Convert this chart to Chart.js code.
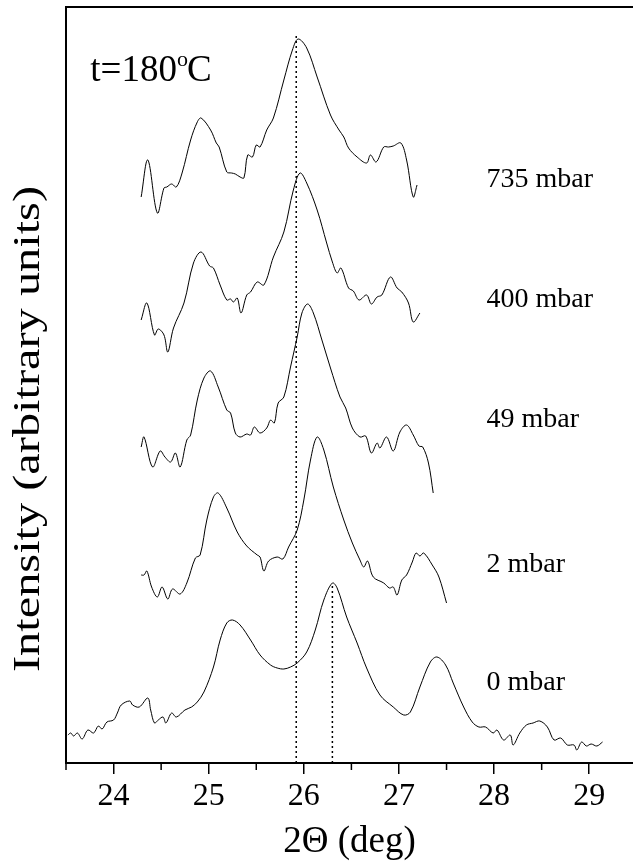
<!DOCTYPE html>
<html lang="en">
<head>
  <meta charset="utf-8">
  <title>XRD patterns, t=180°C</title>
  <script src="https://cdn.jsdelivr.net/npm/chart.js"></script>
  <style>
    body { margin: 0; background: #fff; }
  </style>
</head>
<body>
  <canvas id="xrd" width="633" height="862"></canvas>

  <script>
    // tick labels of the 2-theta axis
    const xTicks = [24, 25, 26, 27, 28, 29];

    // pressures, top to bottom
    const pressures = ['735 mbar', '400 mbar', '49 mbar', '2 mbar', '0 mbar'];
    const labelLevel = [583, 463, 343, 198, 80];

    // 735 mbar
    const theta735 = [24.29, 24.36, 24.46, 24.53, 24.56, 24.61, 24.66, 24.72, 24.81, 24.88, 24.92, 25.02, 25.08, 25.11, 25.19, 25.24, 25.28, 25.33, 25.37, 25.41, 25.46, 25.50, 25.54, 25.61, 25.68, 25.79, 25.88, 25.94, 26.03, 26.14, 26.28, 26.37, 26.42, 26.47, 26.56, 26.66, 26.70, 26.76, 26.84, 26.89, 26.94, 27.02, 27.08, 27.15, 27.19];
    const int735 = [566, 603, 550, 575, 576, 579, 576, 590, 623, 641, 645, 633, 620, 616, 591, 590, 589, 586, 585, 608, 606, 618, 616, 633, 645, 683, 713, 724, 715, 686, 648, 633, 626, 615, 606, 600, 608, 601, 616, 616, 617, 620, 603, 566, 578];

    // 400 mbar
    const theta400 = [24.29, 24.35, 24.43, 24.47, 24.53, 24.57, 24.63, 24.74, 24.84, 24.92, 25.01, 25.05, 25.12, 25.19, 25.23, 25.26, 25.30, 25.34, 25.40, 25.44, 25.51, 25.58, 25.68, 25.79, 25.89, 25.96, 26.03, 26.14, 26.24, 26.30, 26.35, 26.39, 26.47, 26.52, 26.58, 26.66, 26.71, 26.77, 26.82, 26.91, 26.98, 27.03, 27.10, 27.15, 27.22];
    const int400 = [443, 460, 428, 434, 428, 411, 435, 460, 500, 511, 497, 495, 478, 463, 464, 461, 465, 450, 468, 471, 481, 478, 506, 531, 573, 590, 580, 553, 520, 501, 490, 495, 475, 472, 463, 468, 459, 466, 468, 486, 475, 471, 460, 441, 450];

    // 49 mbar
    const theta49 = [24.29, 24.32, 24.41, 24.49, 24.54, 24.60, 24.65, 24.70, 24.77, 24.81, 24.88, 24.95, 25.02, 25.10, 25.19, 25.23, 25.28, 25.33, 25.40, 25.44, 25.48, 25.54, 25.61, 25.65, 25.69, 25.73, 25.79, 25.86, 25.93, 25.98, 26.04, 26.10, 26.19, 26.28, 26.38, 26.44, 26.51, 26.59, 26.65, 26.71, 26.77, 26.80, 26.87, 26.94, 27.01, 27.08, 27.15, 27.21, 27.25, 27.31, 27.36];
    const int49 = [316, 326, 296, 312, 306, 301, 310, 296, 323, 328, 363, 385, 392, 376, 353, 350, 330, 326, 329, 328, 336, 330, 335, 343, 340, 360, 366, 396, 426, 450, 459, 450, 423, 395, 366, 355, 335, 326, 327, 310, 320, 315, 326, 312, 331, 338, 328, 317, 316, 300, 270];

    // 2 mbar
    const theta2 = [24.29, 24.32, 24.35, 24.40, 24.46, 24.51, 24.57, 24.62, 24.70, 24.77, 24.86, 24.91, 24.98, 25.05, 25.10, 25.19, 25.30, 25.40, 25.51, 25.54, 25.58, 25.63, 25.72, 25.78, 25.84, 25.93, 26.00, 26.07, 26.14, 26.21, 26.31, 26.42, 26.51, 26.59, 26.63, 26.67, 26.73, 26.84, 26.90, 26.94, 26.98, 27.03, 27.08, 27.14, 27.18, 27.22, 27.26, 27.35, 27.42, 27.50];
    const int2 = [188, 188, 192, 176, 166, 176, 164, 174, 169, 180, 205, 208, 243, 266, 270, 255, 231, 217, 208, 206, 192, 202, 206, 204, 216, 233, 263, 303, 326, 313, 276, 243, 220, 203, 196, 202, 186, 180, 175, 176, 168, 183, 188, 201, 210, 207, 210, 198, 186, 160];

    // 0 mbar
    const theta0 = [23.52, 23.55, 23.58, 23.62, 23.67, 23.73, 23.79, 23.84, 23.88, 23.93, 24.00, 24.04, 24.08, 24.17, 24.20, 24.27, 24.36, 24.39, 24.43, 24.47, 24.52, 24.55, 24.61, 24.66, 24.75, 24.82, 24.88, 24.95, 25.05, 25.12, 25.19, 25.25, 25.33, 25.44, 25.54, 25.65, 25.72, 25.79, 25.86, 25.93, 26.03, 26.12, 26.21, 26.30, 26.35, 26.45, 26.56, 26.66, 26.80, 26.94, 27.05, 27.12, 27.22, 27.33, 27.40, 27.49, 27.57, 27.68, 27.77, 27.84, 27.91, 27.99, 28.03, 28.10, 28.17, 28.20, 28.27, 28.34, 28.41, 28.48, 28.56, 28.63, 28.70, 28.77, 28.84, 28.87, 28.92, 28.97, 29.02, 29.08, 29.14];
    const int0 = [28, 30, 27, 30, 24, 33, 30, 37, 34, 41, 43, 50, 58, 62, 58, 56, 65, 53, 40, 43, 46, 40, 50, 46, 53, 56, 61, 71, 96, 123, 140, 143, 138, 123, 108, 98, 95, 94, 96, 100, 111, 133, 163, 180, 175, 146, 120, 95, 68, 56, 48, 51, 76, 101, 106, 98, 80, 56, 41, 36, 36, 30, 33, 23, 28, 18, 30, 38, 40, 42, 36, 23, 25, 18, 18, 13, 21, 17, 19, 17, 21];

    // dotted reference lines (peak positions) and how high they reach
    const dotTheta = [25.92, 26.30];
    const dotTop = [728, 180];

    const serif = "'Liberation Serif', 'Times New Roman', serif";

    function pts(xs, ys) {
      return xs.map((x, i) => ({ x: x, y: ys[i] }));
    }

    function curve(xs, ys) {
      return {
        data: pts(xs, ys),
        borderColor: '#000',
        borderWidth: 1,
        pointRadius: 0,
        tension: 0.35,
        fill: false
      };
    }

    function dotted(i) {
      return {
        data: [{ x: dotTheta[i], y: 0 }, { x: dotTheta[i], y: dotTop[i] }],
        borderColor: '#000',
        borderWidth: 1.5,
        borderDash: [2, 3],
        pointRadius: 0,
        fill: false
      };
    }

    // frame top, minor ticks, y title (stretched like the original) and in-plot text
    const extras = {
      id: 'extras',
      afterDraw(chart) {
        const { ctx, chartArea } = chart;
        const xs = chart.scales.x;
        const ys = chart.scales.y;
        ctx.save();
        ctx.strokeStyle = '#000';

        // top edge of the frame
        ctx.lineWidth = 2;
        ctx.beginPath();
        ctx.moveTo(chartArea.left - 1, chartArea.top);
        ctx.lineTo(chartArea.right, chartArea.top);
        ctx.stroke();

        // minor ticks halfway between the labelled ones
        ctx.lineWidth = 1.5;
        xTicks.concat([xTicks[xTicks.length - 1] + 1]).forEach(v => {
          const m = v - 0.5;
          if (m < xs.min || m > xs.max) return;
          const px = xs.getPixelForValue(m);
          ctx.beginPath();
          ctx.moveTo(px, chartArea.bottom);
          ctx.lineTo(px, chartArea.bottom + 7);
          ctx.stroke();
        });

        ctx.fillStyle = '#000';

        // y axis title, drawn along the axis from y=186 downwards
        const yTitle = 'Intensity (arbitrary units)';
        ctx.font = '38px ' + serif;
        const natural = ctx.measureText(yTitle).width;
        const span = 486;
        ctx.save();
        ctx.translate(29, 186 + span / 2);
        ctx.rotate(-Math.PI / 2);
        ctx.scale(span / natural, 1);
        ctx.textAlign = 'center';
        ctx.textBaseline = 'middle';
        ctx.fillText(yTitle, 0, 0);
        ctx.restore();

        ctx.textAlign = 'left';

        // pressure labels
        ctx.font = '28px ' + serif;
        ctx.textBaseline = 'middle';
        pressures.forEach((p, i) => {
          ctx.fillText(p, xs.getPixelForValue(27.92), ys.getPixelForValue(labelLevel[i]));
        });

        // temperature
        ctx.textBaseline = 'alphabetic';
        const tx = xs.getPixelForValue(23.755);
        const ty = ys.getPixelForValue(682);
        ctx.font = '37px ' + serif;
        const main = 't=180';
        ctx.fillText(main, tx, ty);
        let w = ctx.measureText(main).width;
        ctx.font = '22px ' + serif;
        ctx.fillText('o', tx + w, ty - 15);
        w += ctx.measureText('o').width;
        ctx.font = '37px ' + serif;
        ctx.fillText('C', tx + w - 1, ty);
        ctx.restore();
      }
    };

    new Chart(document.getElementById('xrd'), {
      type: 'line',
      data: {
        datasets: [
          curve(theta735, int735),
          curve(theta400, int400),
          curve(theta49, int49),
          curve(theta2, int2),
          curve(theta0, int0),
          dotted(0),
          dotted(1)
        ]
      },
      options: {
        responsive: false,
        animation: false,
        devicePixelRatio: 1,
        layout: { padding: { top: 7, right: 0, left: 0, bottom: 0 } },
        plugins: {
          legend: { display: false },
          tooltip: { enabled: false }
        },
        scales: {
          x: {
            type: 'linear',
            min: 23.5,
            max: 29.46,
            afterBuildTicks(scale) {
              scale.ticks = xTicks.map(v => ({ value: v }));
            },
            afterFit(scale) {
              scale.height = 99;
            },
            grid: {
              display: true,
              drawOnChartArea: false,
              drawTicks: true,
              tickLength: 11,
              color: '#000',
              lineWidth: 1.5
            },
            border: { display: true, color: '#000', width: 2 },
            ticks: {
              color: '#000',
              padding: 3,
              maxRotation: 0,
              autoSkip: false,
              font: { family: serif, size: 32 }
            },
            title: {
              display: true,
              text: '2Θ (deg)',
              color: '#000',
              font: { family: serif, size: 37, lineHeight: 1 },
              padding: { top: 0, bottom: 1 }
            }
          },
          y: {
            type: 'linear',
            min: 0,
            max: 756,
            afterFit(scale) {
              scale.width = 66;
            },
            grid: { display: false },
            border: { display: true, color: '#000', width: 2 },
            ticks: { display: false },
            title: { display: false }
          }
        }
      },
      plugins: [extras]
    });
  </script>
</body>
</html>
